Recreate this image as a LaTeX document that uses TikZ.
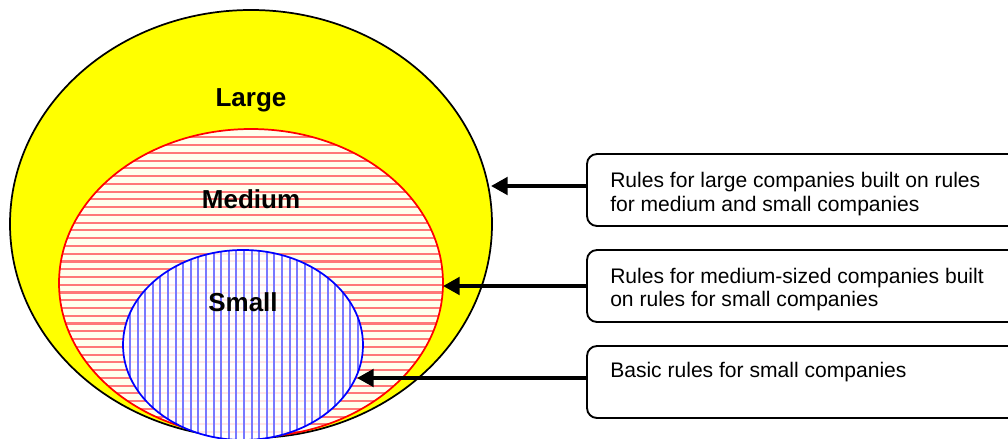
\documentclass[tikz,border=0pt]{standalone}
\usepackage{fontspec}
\setmainfont{Liberation Sans}
\usetikzlibrary{arrows.meta}
\definecolor{ivory}{RGB}{255,255,238}
\definecolor{pureyellow}{RGB}{255,255,0}
\definecolor{hred}{RGB}{255,120,120}
\definecolor{hblue}{RGB}{120,120,255}
\definecolor{faintred}{RGB}{255,232,232}
\definecolor{edgered}{RGB}{255,0,0}
\definecolor{edgeblue}{RGB}{0,0,255}
\tikzset{
  boxnode/.style={draw=black, line width=1.4pt, rounded corners=7.5pt, minimum width=324.75pt, minimum height=54pt, inner sep=0pt},
  boxtext/.style={anchor=base west, inner sep=0pt, font=\fontsize{15.8pt}{18pt}\selectfont},
  sizelabel/.style={anchor=base, inner sep=0pt, font=\bfseries\fontsize{19.5pt}{22pt}\selectfont},
  arr/.style={line width=3pt, -{Triangle[length=12.5pt,width=13pt]}},
  redline/.style={hred, line width=1.6pt},
  blueline/.style={hblue, line width=1.5pt},
  faintline/.style={faintred, line width=1.5pt}
}
\begin{document}
\begin{tikzpicture}[x=0.75pt,y=-0.75pt]
\useasboundingbox (0,0) rectangle (1008,439);
% large
\draw[fill=pureyellow, line width=1.3pt] (251,224) ellipse [x radius=241, y radius=214];
% medium
\begin{scope}
  \clip (251,283) ellipse [x radius=192, y radius=154];
  \fill[ivory] (0,0) rectangle (1008,460);
  \foreach \y in {137.3,145.06,...,450} \draw[redline] (40,\y) -- (460,\y);
\end{scope}
\draw[edgered, line width=1.3pt] (251,283) ellipse [x radius=192, y radius=154];
% small
\begin{scope}
  \clip (243,345) ellipse [x radius=120, y radius=95];
  \fill[white] (0,0) rectangle (1008,460);
  \foreach \y in {137.3,145.06,...,450} \draw[faintline] (100,\y) -- (380,\y);
  \foreach \x in {122.3,129.9,...,370} \draw[blueline] (\x,240) -- (\x,450);
\end{scope}
\draw[edgeblue, line width=1.3pt] (243,345) ellipse [x radius=120, y radius=95];
% labels
\node[sizelabel] (lLarge) at (251,106) {Large};
\node[sizelabel] (lMedium) at (251,208) {Medium};
\node[sizelabel] (lSmall) at (243,311) {Small};
% boxes
\node[boxnode] (b1) at (803.5,190) {};
\node[boxnode] (b2) at (803.5,286) {};
\node[boxnode] (b3) at (803.5,382) {};
\node[boxtext] (t1a) at (610,187) {Rules for large companies built on rules};
\node[boxtext] (t1b) at (610,211) {for medium and small companies};
\node[boxtext] (t2a) at (610,283) {Rules for medium-sized companies built};
\node[boxtext] (t2b) at (610,306) {on rules for small companies};
\node[boxtext] (t3a) at (610,377) {Basic rules for small companies};
% arrow tips
\coordinate (tip1) at (491,186);
\coordinate (tip2) at (443,286);
\coordinate (tip3) at (357,378);
\draw[arr] (b1.west |- tip1) -- (tip1);
\draw[arr] (b2.west |- tip2) -- (tip2);
\draw[arr] (b3.west |- tip3) -- (tip3);
\end{tikzpicture}
\end{document}
